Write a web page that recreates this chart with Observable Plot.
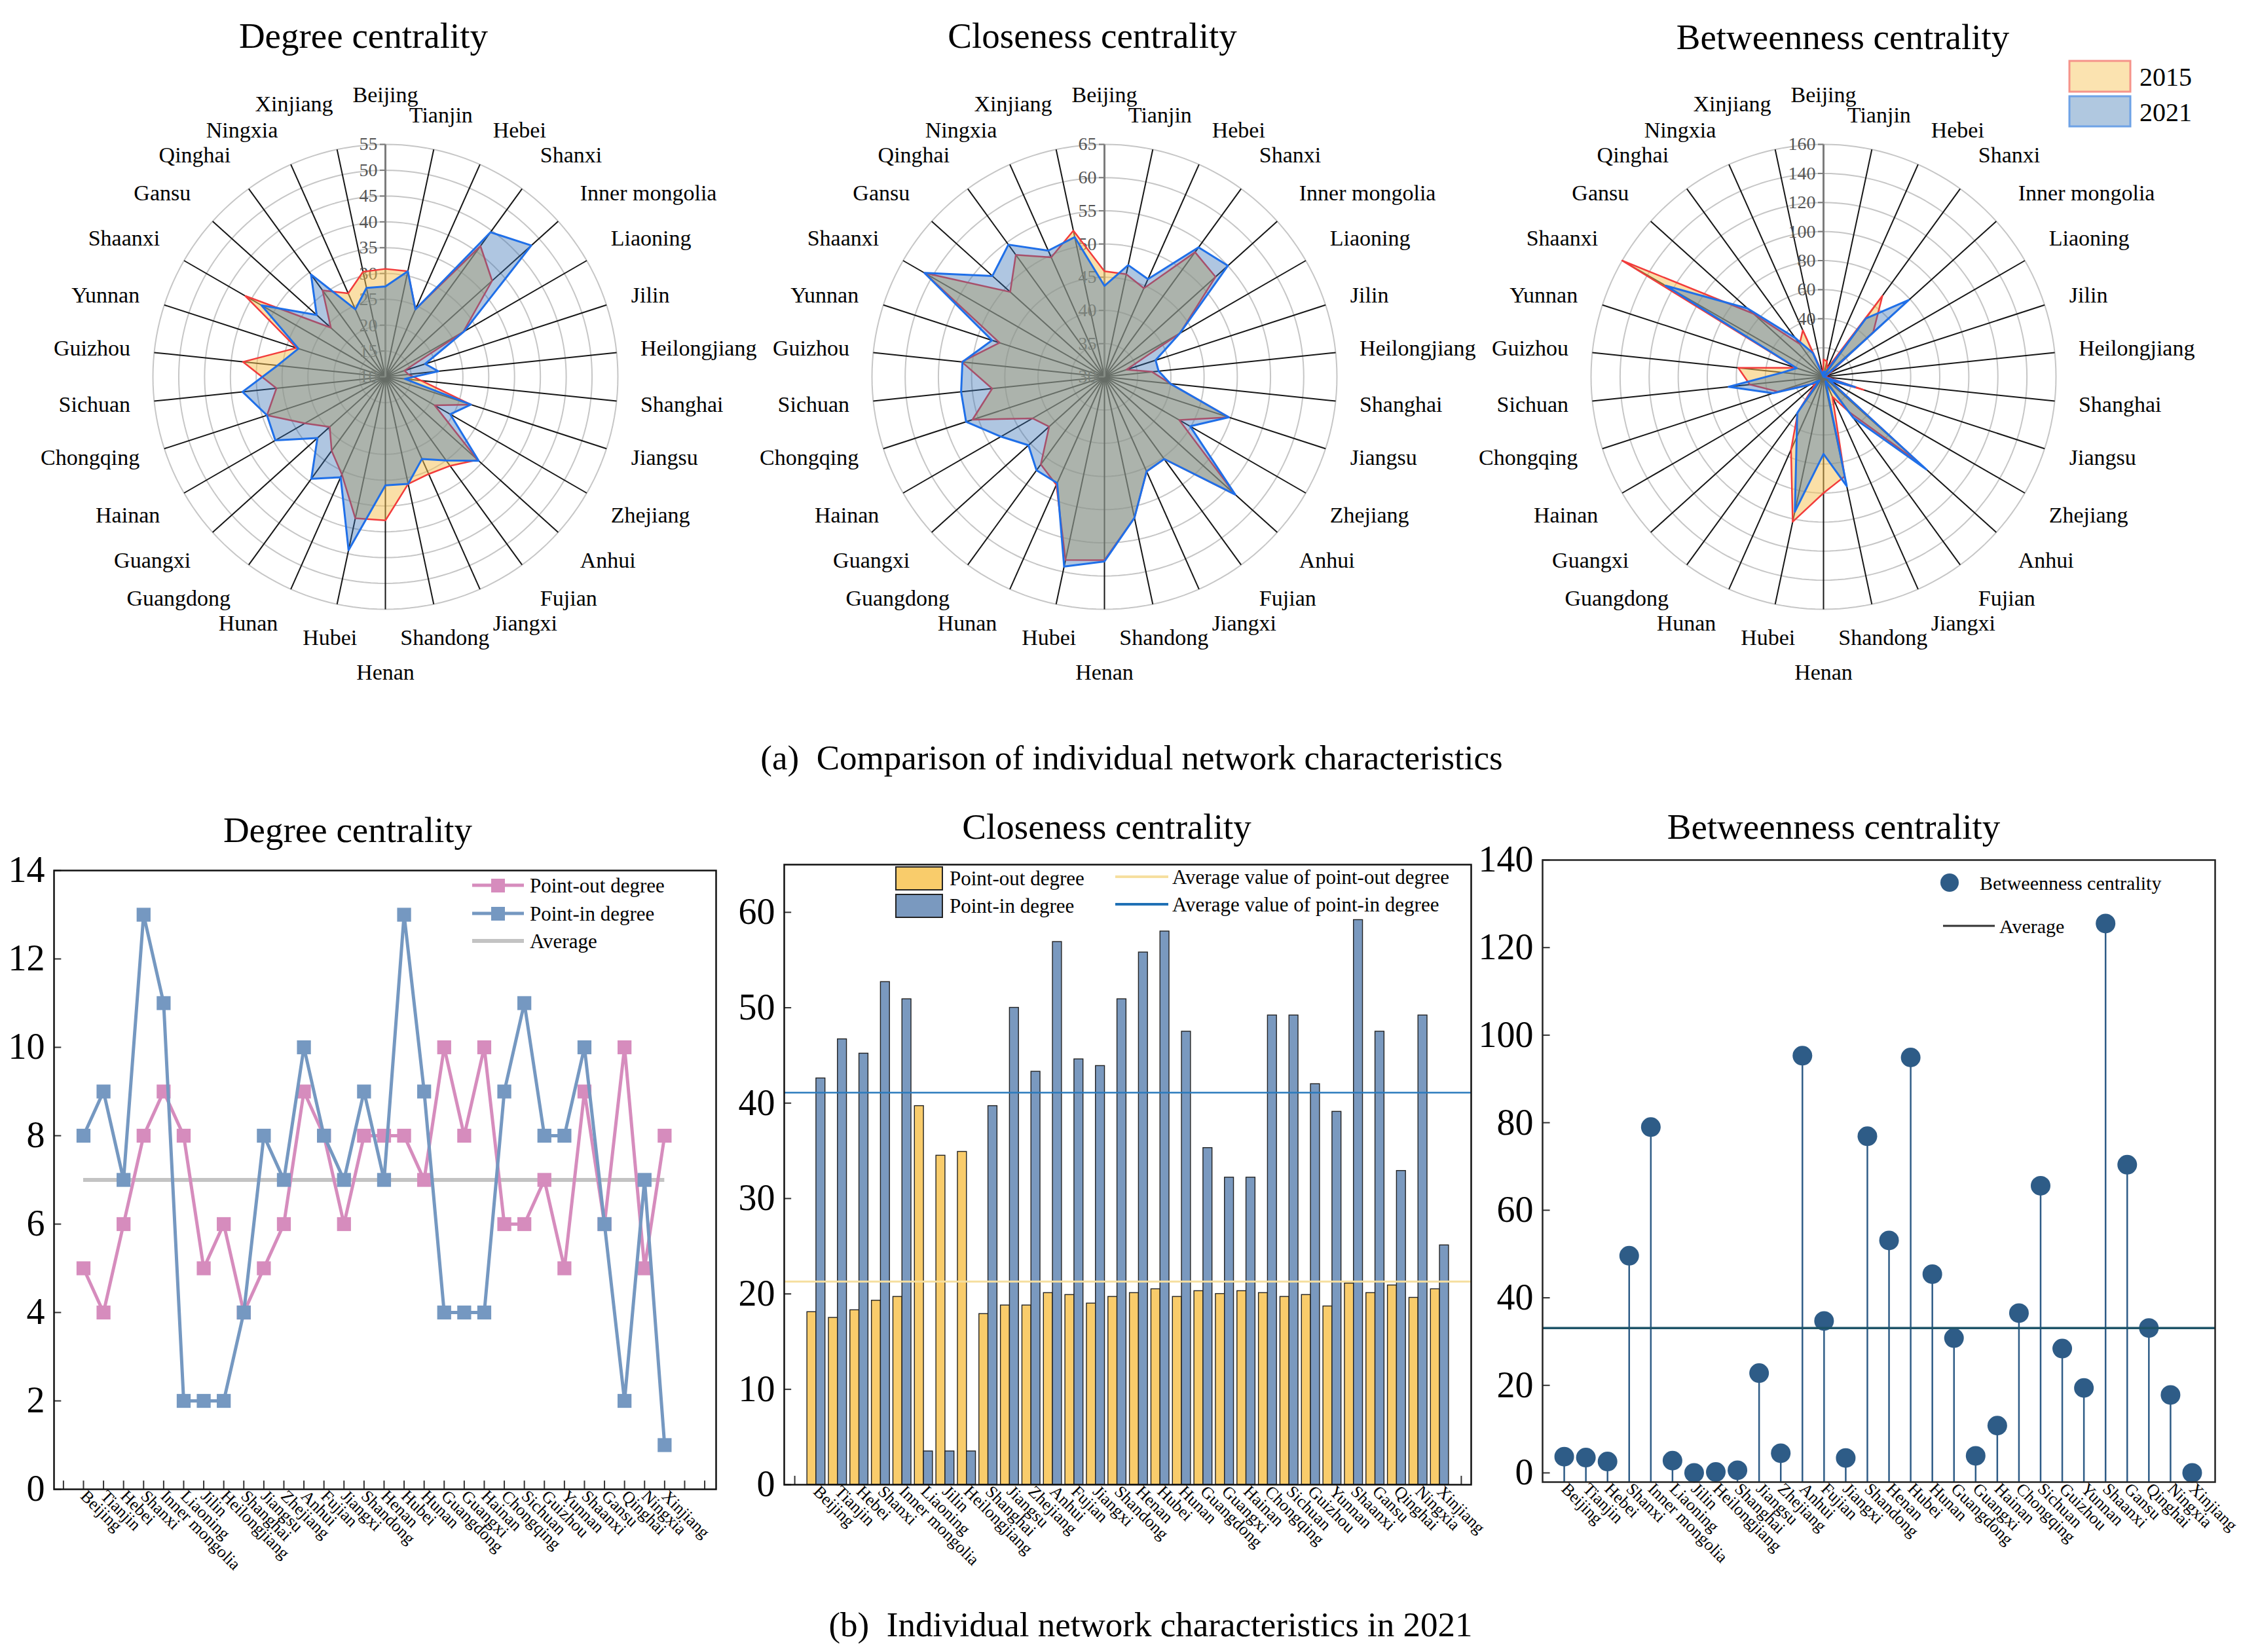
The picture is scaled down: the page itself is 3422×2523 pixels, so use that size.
<!DOCTYPE html>
<html><head><meta charset="utf-8">
<script src="https://cdn.jsdelivr.net/npm/d3@7"></script>
<script src="https://cdn.jsdelivr.net/npm/@observablehq/plot@0.6"></script>
<style>
body{margin:0;background:#fff;}
#page{position:relative;width:3422px;height:2523px;background:#fff;font-family:"Liberation Serif","Times New Roman",serif;overflow:hidden;color:#000}
.t{position:absolute;white-space:pre;transform:translate(-50%,-50%);line-height:1.15;color:#000}
svg text{font-family:"Liberation Serif","Times New Roman",serif;}
</style></head><body><div id="page"></div>
<script>
// ---------------- DATA ----------------
const provinces = ["Beijing","Tianjin","Hebei","Shanxi","Inner mongolia","Liaoning","Jilin","Heilongjiang","Shanghai","Jiangsu","Zhejiang","Anhui","Fujian","Jiangxi","Shandong","Henan","Hubei","Hunan","Guangdong","Guangxi","Hainan","Chongqing","Sichuan","Guizhou","Yunnan","Shaanxi","Gansu","Qinghai","Ningxia","Xinjiang"];

// (a) radar charts, 2015 vs 2021
const degree2015 = [30.9,30.9,24.3,41.3,37.8,27.4,13.9,14.5,17.0,27.4,21.0,34.0,31.3,30.6,31.2,37.8,38.0,30.7,27.7,24.5,28.0,34.1,31.2,37.7,28.1,41.3,24.2,30.7,27.7,30.8];
const degree2021 = [27.5,30.9,24.3,44.6,48.0,27.6,18.1,20.3,13.8,27.4,24.5,34.3,30.0,27.4,31.2,31.0,44.3,31.3,34.4,27.7,34.6,34.1,37.8,31.0,27.7,37.7,27.9,34.5,24.3,27.6];
const closeness2015 = [45.9,45.8,44.6,53.2,52.5,43.1,33.5,37.2,40.0,49.7,43.0,56.5,45.3,45.6,51.7,57.6,58.2,47.8,46.3,41.2,42.5,50.9,47.0,51.6,46.6,61.3,49.1,52.7,49.7,52.5];
const closeness2021 = [43.7,47.2,46.1,54.1,55.0,43.1,38.1,38.2,40.0,49.7,44.9,56.5,45.3,45.6,51.7,57.8,59.2,47.5,47.4,45.4,48.0,51.9,51.7,51.5,47.8,61.3,52.7,54.6,50.8,51.5];
const betweenness2015 = [12,11,6,69,46,5,2,2,3,29,5,88,30,15,70,80,102,55,30,8,10,33,51,59,20,160,65,28,35,2];
const betweenness2021 = [3.7,3.5,2.6,49.6,79.0,2.8,0,0.2,0.6,22.8,4.5,95.3,34.7,3.4,76.9,53.1,94.9,45.4,30.8,3.9,10.8,36.5,65.6,28.4,19.4,125.5,70.4,33.1,17.8,0];

const degreeTicks = [10,15,20,25,30,35,40,45,50,55];
const closenessTicks = [30,35,40,45,50,55,60,65];
const betweennessTicks = [40,60,80,100,120,140,160];
const betweennessRings = [20,40,60,80,100,120,140,160];

// (b) 2021 individual characteristics
const pointOutDegree = [5,4,6,8,9,8,5,6,4,5,6,9,8,6,8,8,8,7,10,8,10,6,6,7,5,9,6,10,5,8];
const pointInDegree  = [8,9,7,13,11,2,2,2,4,8,7,10,8,7,9,7,13,9,4,4,4,9,11,8,8,10,6,2,7,1];
const degreeAvg = 7;
const closenessOut = [18.1,17.5,18.3,19.3,19.7,39.7,34.5,34.9,17.9,18.8,18.8,20.1,19.9,19.0,19.7,20.1,20.5,19.7,20.3,20.0,20.3,20.1,19.7,19.9,18.7,21.1,20.1,20.9,19.6,20.5];
const closenessIn  = [42.6,46.7,45.2,52.7,50.9,3.5,3.5,3.5,39.7,50.0,43.3,56.9,44.6,43.9,50.9,55.8,58.0,47.5,35.3,32.2,32.2,49.2,49.2,42.0,39.1,59.2,47.5,32.9,49.2,25.1];
const closenessOutAvg = 21.3;
const closenessInAvg = 41.1;
const betweenness = betweenness2021;
const betweennessAvg = 33.1;

const degreeYTicks = [0,2,4,6,8,10,12,14];
const closenessYTicks = [0,10,20,30,40,50,60];
const betweennessYTicks = [0,20,40,60,80,100,120,140];

// ---------------- HELPERS ----------------
const FONT = '"Liberation Serif","Times New Roman",serif';
const page = document.getElementById("page");
function place(node, left, top) {
  const d = document.createElement("div");
  d.style.cssText = `position:absolute;left:${left}px;top:${top}px;`;
  d.appendChild(node); page.appendChild(d);
}
function label(text, cx, cy, size) {
  const d = document.createElement("div");
  d.className = "t";
  d.style.left = cx + "px"; d.style.top = cy + "px"; d.style.fontSize = size + "px";
  d.textContent = text; page.appendChild(d);
}
const baseStyle = {background: "transparent", overflow: "visible", maxWidth: "none", fontFamily: FONT, color: "#000"};

// ---------------- RADARS ----------------
function radar({cx, cy, v15, v21, vmin, vmax, rings, ticks}) {
  const R = 355, S = 1100, E = S / 2 / R, n = provinces.length;
  const ang = k => 2 * Math.PI * k / n;
  const rr = v => (v - vmin) / (vmax - vmin);
  const toXY = vals => vals.map((v, k) => ({name: provinces[k], x: rr(v) * Math.sin(ang(k)), y: rr(v) * Math.cos(ang(k))}));
  const degs = d3.range(0, 361, 2);
  const ringPts = rings.flatMap(t => degs.map(a => ({t, x: rr(t) * Math.sin(a * Math.PI / 180), y: rr(t) * Math.cos(a * Math.PI / 180)})));
  const spokes = provinces.map((p, k) => ({k, x: Math.sin(ang(k)), y: Math.cos(ang(k))}));
  const labs = provinces.map((p, k) => {
    const s = Math.sin(ang(k)), c = Math.cos(ang(k)), ac = Math.abs(c);
    let anchor = s > 0.25 ? "start" : s < -0.25 ? "end" : "middle";
    let rpx = anchor === "middle" ? (k === 0 ? 430 : k === 15 ? 452 : 408) : 390 + 15 * ac;
    const shift = anchor === "middle" ? 0 : Math.sign(c) * (ac > 0.85 ? 8 : ac > 0.4 ? 13 : 2);
    let xs = rpx * s, ys = rpx * c + shift;
    if (k === 29) { anchor = "end"; xs = -80; ys = 416; }
    if (k === 14) { xs += 6; }
    return {p, anchor, x: xs / R, y: ys / R};
  });
  const textMark = a => Plot.text(labs.filter(d => d.anchor === a), {x: "x", y: "y", text: "p", textAnchor: a, fontSize: 34, fill: "#000", fontFamily: FONT});
  const svg = Plot.plot({
    width: S, height: S, margin: 0, axis: null,
    x: {domain: [-E, E]}, y: {domain: [-E, E]},
    style: baseStyle,
    marks: [
      Plot.line(ringPts, {x: "x", y: "y", z: "t", stroke: "#c6c6c6", strokeWidth: 2}),
      Plot.link(spokes.slice(1), {x1: 0, y1: 0, x2: "x", y2: "y", stroke: "#161616", strokeWidth: 2}),
      Plot.link(spokes.slice(0, 1), {x1: 0, y1: 0, x2: "x", y2: "y", stroke: "#7c7c7c", strokeWidth: 3}),
      Plot.link(ticks, {x1: -0.024, x2: 0, y1: rr, y2: rr, stroke: "#7c7c7c", strokeWidth: 2}),
      Plot.text(ticks, {x: 0, y: rr, text: d => String(d), dx: -12, textAnchor: "end", fontSize: 28, fill: "#555", fontFamily: FONT}),
      Plot.line(toXY(v15), {x: "x", y: "y", curve: "linear-closed", fill: "#f5c050", fillOpacity: 0.5, stroke: "#f23b3b", strokeWidth: 2.5}),
      Plot.line(toXY(v21), {x: "x", y: "y", curve: "linear-closed", fill: "#3770b4", fillOpacity: 0.4, stroke: "#1f6fe8", strokeWidth: 3}),
      textMark("start"), textMark("middle"), textMark("end")
    ]
  });
  place(svg, cx - S / 2, cy - S / 2);
}
radar({cx: 588, cy: 575, v15: degree2015, v21: degree2021, vmin: 10, vmax: 55, rings: degreeTicks.slice(1), ticks: degreeTicks});
radar({cx: 1686, cy: 575, v15: closeness2015, v21: closeness2021, vmin: 30, vmax: 65, rings: closenessTicks.slice(1), ticks: closenessTicks});
radar({cx: 2784, cy: 575, v15: betweenness2015, v21: betweenness2021, vmin: 0, vmax: 160, rings: betweennessRings, ticks: betweennessTicks});

// radar legend
{
  const svg = d3.create("svg").attr("width", 272).attr("height", 120).style("overflow", "visible").style("font-family", FONT);
  svg.append("rect").attr("x", 10).attr("y", 8).attr("width", 93).attr("height", 47).attr("fill", "#fbe3b0").attr("stroke", "#f5938a").attr("stroke-width", 3);
  svg.append("rect").attr("x", 10).attr("y", 62).attr("width", 93).attr("height", 46).attr("fill", "#b0c8e0").attr("stroke", "#6ea2e6").attr("stroke-width", 3);
  svg.append("text").attr("x", 117).attr("y", 32).attr("dominant-baseline", "central").attr("font-size", 40).text("2015");
  svg.append("text").attr("x", 117).attr("y", 86).attr("dominant-baseline", "central").attr("font-size", 40).text("2021");
  place(svg.node(), 3150, 85);
}

// ---------------- BOTTOM CHARTS ----------------
const rows = provinces.map((p, i) => ({i, p, out: pointOutDegree[i], in: pointInDegree[i], cout: closenessOut[i], cin: closenessIn[i], b: betweenness[i]}));
const PINK = "#d68cbd", LBLUE = "#7598c1", YEL = "#f9cc6b", BBLUE = "#7a99bf", LOLLI = "#2e5c87";
const xAxis = () => Plot.axisX({ticks: d3.range(30), tickFormat: i => provinces[i], tickRotate: 45, tickSize: 0, tickPadding: 6, fontSize: 26, fontFamily: FONT, textAnchor: "start", label: null});
const yAxis = t => Plot.axisY({ticks: t, tickFormat: d => String(d), tickSize: 0, tickPadding: 14, fontSize: 56, fontFamily: FONT, fontVariant: "normal", label: null});

// Degree centrality line chart
{
  const svg = Plot.plot({
    width: 1110, height: 1280, marginLeft: 82, marginRight: 17, marginTop: 129, marginBottom: 206,
    x: {domain: [-1.47, 31.57]}, y: {domain: [0, 14]},
    style: baseStyle,
    marks: [
      Plot.ruleX(d3.range(-1, 32), {y1: 0, y2: 0.19, stroke: "#333", strokeWidth: 2}),
      Plot.ruleY(degreeYTicks, {x1: -1.47, x2: -1.1, stroke: "#333", strokeWidth: 2}),
      Plot.ruleY([degreeAvg], {x1: 0, x2: 29, stroke: "#c3c3c3", strokeWidth: 6}),
      Plot.line(rows, {x: "i", y: "out", stroke: PINK, strokeWidth: 5}),
      Plot.dot(rows, {x: "i", y: "out", symbol: "square", r: 12, fill: PINK}),
      Plot.line(rows, {x: "i", y: "in", stroke: LBLUE, strokeWidth: 5}),
      Plot.dot(rows, {x: "i", y: "in", symbol: "square", r: 12, fill: LBLUE}),
      yAxis(degreeYTicks), xAxis(),
      Plot.frame({stroke: "#111", strokeWidth: 2.5})
    ]
  });
  place(svg, 0, 1200);
  const lg = d3.create("svg").attr("width", 400).attr("height", 140).style("overflow", "visible").style("font-family", FONT);
  [["Point-out degree", PINK, 27, true], ["Point-in degree", LBLUE, 70, true], ["Average", "#c3c3c3", 112, false]].forEach(([t, c, y, sq]) => {
    lg.append("line").attr("x1", 21).attr("x2", 100).attr("y1", y).attr("y2", y).attr("stroke", c).attr("stroke-width", sq ? 5 : 6);
    if (sq) lg.append("rect").attr("x", 50).attr("y", y - 10).attr("width", 21).attr("height", 21).attr("fill", c);
    lg.append("text").attr("x", 109).attr("y", y).attr("dominant-baseline", "central").attr("font-size", 31).text(t);
  });
  place(lg.node(), 700, 1325);
}

// Closeness centrality bar chart
{
  const svg = Plot.plot({
    width: 1161, height: 1272, marginLeft: 92, marginRight: 20, marginTop: 120, marginBottom: 205,
    x: {domain: [-1.49, 30.46]}, y: {domain: [0, 65]},
    style: baseStyle,
    marks: [
      Plot.ruleX(d3.range(-1, 31), {y1: 0, y2: 0.9, stroke: "#333", strokeWidth: 2}),
      Plot.ruleY(closenessYTicks, {x1: -1.49, x2: -1.15, stroke: "#333", strokeWidth: 2}),
      Plot.rect(rows, {x1: d => d.i - 0.42, x2: "i", y1: 0, y2: "cout", fill: YEL, stroke: "#222", strokeWidth: 1.4}),
      Plot.rect(rows, {x1: "i", x2: d => d.i + 0.42, y1: 0, y2: "cin", fill: BBLUE, stroke: "#222", strokeWidth: 1.4}),
      Plot.ruleY([closenessOutAvg], {stroke: "#f6df9f", strokeWidth: 3}),
      Plot.ruleY([closenessInAvg], {stroke: "#2b7bbd", strokeWidth: 2.5}),
      yAxis(closenessYTicks), xAxis(),
      Plot.frame({stroke: "#111", strokeWidth: 2.5})
    ]
  });
  place(svg, 1105, 1200);
  const lg = d3.create("svg").attr("width", 880).attr("height", 90).style("overflow", "visible").style("font-family", FONT);
  lg.append("rect").attr("x", 8).attr("y", 6).attr("width", 71).attr("height", 35).attr("fill", YEL).attr("stroke", "#222").attr("stroke-width", 2);
  lg.append("rect").attr("x", 8).attr("y", 48).attr("width", 71).attr("height", 35).attr("fill", BBLUE).attr("stroke", "#222").attr("stroke-width", 2);
  lg.append("text").attr("x", 90).attr("y", 23).attr("dominant-baseline", "central").attr("font-size", 31).text("Point-out degree");
  lg.append("text").attr("x", 90).attr("y", 65).attr("dominant-baseline", "central").attr("font-size", 31).text("Point-in degree");
  lg.append("line").attr("x1", 343).attr("x2", 424).attr("y1", 21).attr("y2", 21).attr("stroke", "#f6df9f").attr("stroke-width", 4);
  lg.append("line").attr("x1", 343).attr("x2", 424).attr("y1", 63).attr("y2", 63).attr("stroke", "#1f70b5").attr("stroke-width", 4);
  lg.append("text").attr("x", 430).attr("y", 21).attr("dominant-baseline", "central").attr("font-size", 31).text("Average value of point-out degree");
  lg.append("text").attr("x", 430).attr("y", 63).attr("dominant-baseline", "central").attr("font-size", 31).text("Average value of point-in degree");
  place(lg.node(), 1360, 1318);
}

// Betweenness centrality lollipop chart
{
  const svg = Plot.plot({
    width: 1182, height: 1274, marginLeft: 125, marginRight: 30, marginTop: 113, marginBottom: 211,
    x: {domain: [-1.0, 30.06]}, y: {domain: [-2.1, 140]},
    style: baseStyle,
    marks: [
      Plot.ruleY(betweennessYTicks, {x1: -1.0, x2: -0.65, stroke: "#333", strokeWidth: 2}),
      Plot.ruleX(rows, {x: "i", y1: -2.1, y2: "b", stroke: LOLLI, strokeWidth: 2.5}),
      Plot.dot(rows, {x: "i", y: "b", r: 15, fill: LOLLI}),
      Plot.ruleY([betweennessAvg], {stroke: "#1e5468", strokeWidth: 3.5}),
      yAxis(betweennessYTicks), xAxis(),
      Plot.frame({stroke: "#222", strokeWidth: 2.5})
    ]
  });
  place(svg, 2230, 1200);
  const lg = d3.create("svg").attr("width", 420).attr("height", 120).style("overflow", "visible").style("font-family", FONT);
  lg.append("circle").attr("cx", 27).attr("cy", 28).attr("r", 14).attr("fill", LOLLI);
  lg.append("text").attr("x", 73).attr("y", 28).attr("dominant-baseline", "central").attr("font-size", 30).text("Betweenness centrality");
  lg.append("line").attr("x1", 17).attr("x2", 96).attr("y1", 94).attr("y2", 94).attr("stroke", "#333").attr("stroke-width", 3);
  lg.append("text").attr("x", 103).attr("y", 94).attr("dominant-baseline", "central").attr("font-size", 30).text("Average");
  place(lg.node(), 2950, 1320);
}

// ---------------- TITLES & CAPTIONS ----------------
label("Degree centrality", 555, 55, 55);
label("Closeness centrality", 1668, 55, 55);
label("Betweenness centrality", 2814, 57, 55);
label("Degree centrality", 531, 1268, 55);
label("Closeness centrality", 1690, 1263, 55);
label("Betweenness centrality", 2800, 1263, 55);
label("(a)  Comparison of individual network characteristics", 1728, 1157, 53);
label("(b)  Individual network characteristics in 2021", 1757, 2481, 53);
</script></body></html>
